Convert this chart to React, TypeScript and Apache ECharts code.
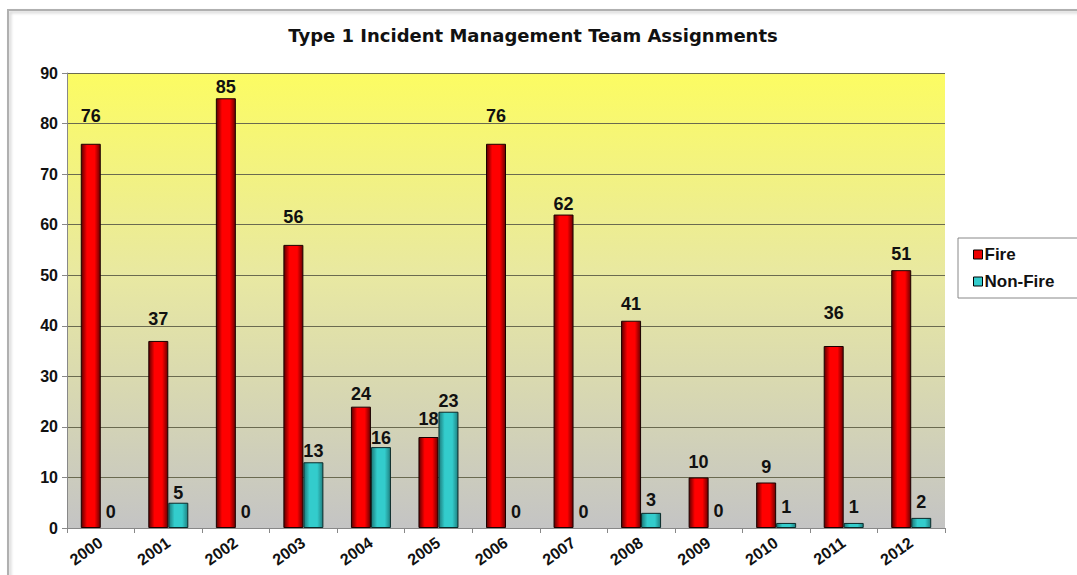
import React, { useEffect, useRef } from "react";
import * as echarts from "echarts";

const years = ["2000","2001","2002","2003","2004","2005","2006","2007","2008","2009","2010","2011","2012"];
const fire = [76, 37, 85, 56, 24, 18, 76, 62, 41, 10, 9, 36, 51];
const nonFire = [0, 5, 0, 13, 16, 23, 0, 0, 3, 0, 1, 1, 2];
const yTicks = { min: 0, max: 90, interval: 10 };
// gap (px) between each bar top and its value label, as placed in the original
const fireLabelGap = [19, 13, 2, 19, 4, 9, 19, 2, 8, 6, 7, 24, 7];
const nonFireLabelGap = [7, 1, 7, 2, 0, 2, 7, 7, 4, 8, 7, 7, 7];

const fireGrad = new echarts.graphic.LinearGradient(0, 0, 1, 0, [
  { offset: 0, color: "#5a0000" },
  { offset: 0.3, color: "#ff0000" },
  { offset: 0.7, color: "#ff0000" },
  { offset: 1, color: "#6a0000" },
]);
const nonGrad = new echarts.graphic.LinearGradient(0, 0, 1, 0, [
  { offset: 0, color: "#1c7a7a" },
  { offset: 0.3, color: "#33cccc" },
  { offset: 0.7, color: "#33cccc" },
  { offset: 1, color: "#1f8080" },
]);

export default function App() {
  const ref = useRef<HTMLDivElement>(null);
  useEffect(() => {
    const chart = echarts.init(ref.current!, undefined, { renderer: "svg" });
    const font = "'Liberation Sans', Arial, sans-serif";
    const labelBase = { show: true, position: "top", fontSize: 18, fontWeight: "bold", color: "#111", fontFamily: font };
    const item = (v: number, gap: number) => ({
      value: v,
      label: { distance: gap },
      itemStyle: v === 0 ? { borderWidth: 0 } : undefined,
    });
    chart.setOption({
      animation: false,
      backgroundColor: "#ffffff",
      textStyle: { fontFamily: font },
      title: {
        text: "Type 1 Incident Management Team Assignments",
        left: 528,
        textAlign: "center",
        top: 21,
        textStyle: { fontSize: 18, fontWeight: "bold", color: "#111", fontFamily: "'DejaVu Sans', sans-serif" },
      },
      graphic: [
        {
          type: "rect",
          shape: { x: 8, y: 10, width: 1200, height: 700 },
          style: { fill: "none", stroke: "#b0b0b0", lineWidth: 2, shadowColor: "rgba(0,0,0,0.2)", shadowBlur: 3, shadowOffsetX: 2, shadowOffsetY: 2 },
          silent: true,
        },
      ],
      legend: {
        orient: "vertical",
        left: 958,
        top: 238,
        padding: [8, 30, 8, 15],
        itemGap: 10,
        itemWidth: 9,
        itemHeight: 9,
        borderColor: "#888",
        borderWidth: 1,
        backgroundColor: "#fff",
        textStyle: { fontSize: 17, fontWeight: "bold", color: "#111", fontFamily: font, padding: [0, 0, 0, -3] },
        data: [
          { name: "Fire", icon: "rect", itemStyle: { color: "#ee0000", borderColor: "#000", borderWidth: 1 } },
          { name: "Non-Fire", icon: "rect", itemStyle: { color: "#33cccc", borderColor: "#000", borderWidth: 1 } },
        ],
      },
      grid: {
        left: 67,
        right: 132,
        top: 73,
        bottom: 47,
        show: true,
        borderWidth: 0,
        backgroundColor: new echarts.graphic.LinearGradient(0, 0, 0, 1, [
          { offset: 0, color: "#fcfc62" },
          { offset: 0.45, color: "#e8e8a2" },
          { offset: 1, color: "#c4c4c4" },
        ]),
      },
      xAxis: {
        type: "category",
        data: years,
        axisLine: { lineStyle: { color: "#888", width: 1 } },
        axisTick: { show: true, length: 5, inside: false, lineStyle: { color: "#888" } },
        axisLabel: { rotate: 35, fontSize: 16, fontWeight: "bold", color: "#111", margin: 13, fontFamily: font },
      },
      yAxis: {
        type: "value",
        min: yTicks.min,
        max: yTicks.max,
        interval: yTicks.interval,
        axisLine: { show: true, lineStyle: { color: "#888" } },
        axisTick: { show: true, length: 5, lineStyle: { color: "#888" } },
        axisLabel: { fontSize: 16, fontWeight: "bold", color: "#111", margin: 9, fontFamily: font },
        splitLine: { show: true, lineStyle: { color: "#6a6a50", width: 1 } },
      },
      series: [
        {
          name: "Fire",
          type: "bar",
          data: fire.map((v, i) => item(v, fireLabelGap[i])),
          barWidth: 20,
          barGap: "0%",
          itemStyle: { color: fireGrad, borderColor: "#1a0000", borderWidth: 1 },
          label: labelBase,
        },
        {
          name: "Non-Fire",
          type: "bar",
          data: nonFire.map((v, i) => item(v, nonFireLabelGap[i])),
          barWidth: 20,
          itemStyle: { color: nonGrad, borderColor: "#0a2a2a", borderWidth: 1 },
          label: labelBase,
        },
      ],
    });
    return () => chart.dispose();
  }, []);
  return <div ref={ref} style={{ position: "absolute", left: 0, top: 0, width: 1077, height: 575 }} />;
}
